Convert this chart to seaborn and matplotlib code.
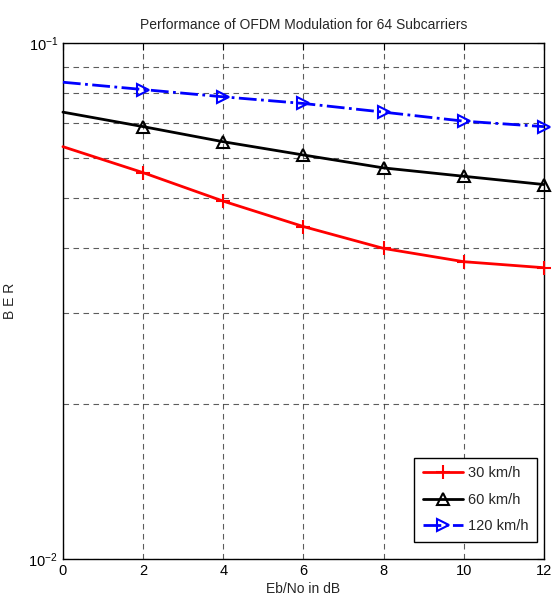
import numpy as np
import pandas as pd
import matplotlib
matplotlib.use("Agg")
import matplotlib.pyplot as plt
import seaborn as sns
from matplotlib.ticker import LogLocator, NullFormatter

# Eb/No values (dB) and BER for each vehicle speed
ebno = [0, 2, 4, 6, 8, 10, 12]
ber_30 = [0.0630, 0.0561, 0.0494, 0.0441, 0.0400, 0.0377, 0.0367]
ber_60 = [0.0735, 0.0689, 0.0644, 0.0607, 0.0573, 0.0552, 0.0532]
ber_120 = [0.0840, 0.0813, 0.0787, 0.0764, 0.0735, 0.0706, 0.0689]
speeds = ["30 km/h", "60 km/h", "120 km/h"]
xticks = [0, 2, 4, 6, 8, 10, 12]

sns.set_style("white")
plt.rcParams['font.family'] = ['Liberation Sans', 'DejaVu Sans']
plt.rcParams['mathtext.fontset'] = 'custom'
plt.rcParams['mathtext.rm'] = 'Liberation Sans'
plt.rcParams['mathtext.it'] = 'Liberation Sans'

fig = plt.figure(figsize=(5.52, 6.08), dpi=100)
ax = fig.add_axes([0.114, 0.0806, 0.8715, 0.8484])

# line styles like the MATLAB original
styles = [
    dict(color="red", marker="+", linestyle="-", markersize=10, mew=1.5),
    dict(color="black", marker="^", linestyle="-", markersize=9, mew=1.5,
         markerfacecolor="none"),
    dict(color="blue", marker=">", linestyle="-.", markersize=9, mew=1.5,
         markerfacecolor="none"),
]
for vals, name, st in zip([ber_30, ber_60, ber_120], speeds, styles):
    sns.lineplot(x=ebno, y=vals, ax=ax, label=name, linewidth=2,
                 markeredgecolor=st["color"], markevery=list(range(1, len(ebno))),
                 clip_on=False, zorder=3, **st)

ax.set_yscale("log")
ax.set_xlim(0, 12)
ax.set_ylim(1e-2, 1e-1)
ax.set_xticks(xticks)
ax.yaxis.set_major_locator(LogLocator(base=10, numticks=5))
ax.yaxis.set_minor_locator(LogLocator(base=10, subs=np.arange(2, 10), numticks=20))
ax.yaxis.set_minor_formatter(NullFormatter())

grid_kw = dict(color="#333333", linestyle=(0, (5, 4)), linewidth=0.8, alpha=0.8)
ax.grid(True, which="major", axis="both", **grid_kw)
ax.grid(True, which="minor", axis="y", **grid_kw)

ax.tick_params(which="both", direction="in", top=True, right=True,
               labelsize=10.5, colors="black")
ax.tick_params(which="major", length=5)
ax.tick_params(which="minor", length=3)
for s in ax.spines.values():
    s.set_color("black")
    s.set_linewidth(1)
    s.set_zorder(2.5)

ax.set_title("Performance of OFDM Modulation for 64 Subcarriers", fontsize=10, pad=10)
ax.set_xlabel("Eb/No in dB", fontsize=10, labelpad=3)
ax.set_ylabel("B E R", fontsize=10)
ax.yaxis.set_label_coords(-0.096, 0.5)

leg = ax.legend(loc="lower right", fontsize=10.5, frameon=True, fancybox=False,
                edgecolor="black", framealpha=1, handlelength=2.8,
                borderpad=0.6, labelspacing=0.85, handletextpad=0.3,
                borderaxespad=0, bbox_to_anchor=(0.9855, 0.033))
leg.get_frame().set_linewidth(1)
leg.set_zorder(5)

fig.savefig("out.png", dpi=100)
